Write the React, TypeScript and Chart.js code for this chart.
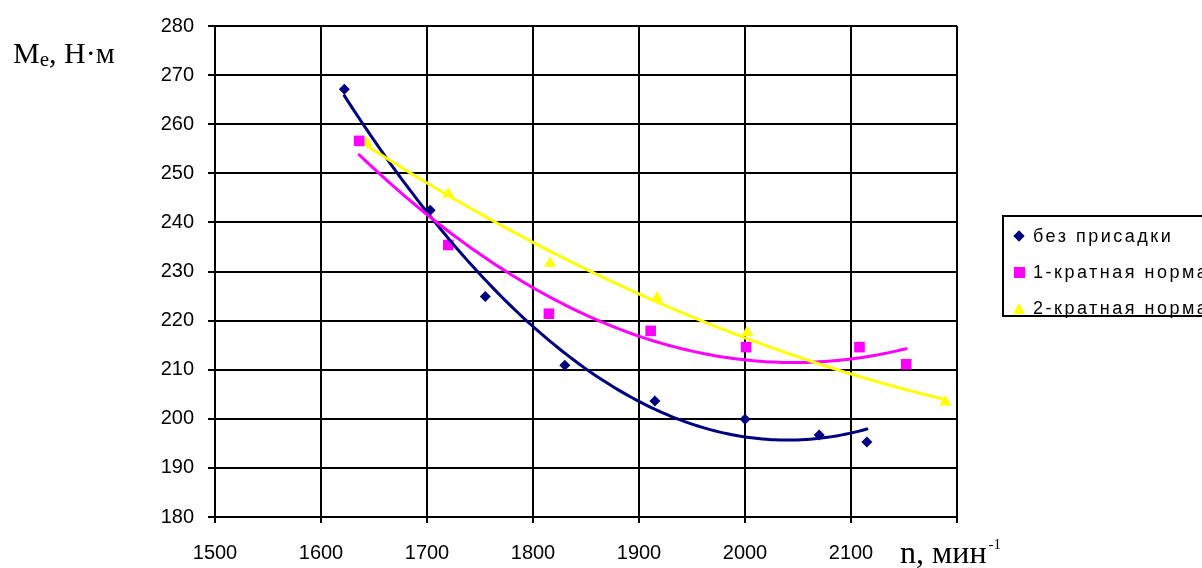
import React, { useEffect, useRef } from "react";
import { Chart, registerables } from "chart.js";

Chart.register(...registerables);

// Engine speed, min^-1, and effective torque, N·m, for each fuel variant
const rpmBase = [1622, 1703, 1755, 1830, 1915, 2000, 2070, 2115];
const torqueBase = [267.1, 242.5, 224.9, 210.9, 203.6, 199.9, 196.7, 195.3];

const rpmSingle = [1636, 1720, 1815, 1911, 2001, 2108, 2152];
const torqueSingle = [256.6, 235.4, 221.4, 217.9, 214.6, 214.6, 211.1];

const rpmDouble = [1643, 1720, 1816, 1917, 2002, 2189];
const torqueDouble = [256.2, 245.8, 231.7, 224.6, 217.6, 203.4];

const seriesLabels = ["без присадки", "1-кратная норма", "2-кратная норма"];
const seriesColors = ["#000080", "#FF00FF", "#FFFF00"];

const xTicks = [1500, 1600, 1700, 1800, 1900, 2000, 2100];

// Least-squares fit of a second-order polynomial (centred x for stability)
function quadFit(xs: number[], ys: number[]) {
  const c = 1900;
  const k = 100;
  const s = [0, 0, 0, 0, 0];
  const t = [0, 0, 0];
  xs.forEach((x, i) => {
    const u = (x - c) / k;
    let p = 1;
    for (let j = 0; j < 5; j++) {
      s[j] += p;
      if (j < 3) t[j] += p * ys[i];
      p *= u;
    }
  });
  const m = [
    [s[0], s[1], s[2], t[0]],
    [s[1], s[2], s[3], t[1]],
    [s[2], s[3], s[4], t[2]],
  ];
  for (let i = 0; i < 3; i++) {
    let piv = i;
    for (let r = i + 1; r < 3; r++) if (Math.abs(m[r][i]) > Math.abs(m[piv][i])) piv = r;
    [m[i], m[piv]] = [m[piv], m[i]];
    for (let r = 0; r < 3; r++) {
      if (r === i) continue;
      const f = m[r][i] / m[i][i];
      for (let q = i; q < 4; q++) m[r][q] -= f * m[i][q];
    }
  }
  const coef = [m[0][3] / m[0][0], m[1][3] / m[1][1], m[2][3] / m[2][2]];
  return (x: number) => {
    const u = (x - c) / k;
    return coef[0] + coef[1] * u + coef[2] * u * u;
  };
}

// Polynomial trend curves drawn through the chart's own scales
const trendPlugin = {
  id: "trendCurves",
  afterDatasetsDraw(chart: any) {
    const { ctx, scales } = chart;
    const xs = scales.x;
    const ys = scales.y;
    chart.data.datasets.forEach((ds: any) => {
      const px = ds.data.map((p: any) => p.x);
      const py = ds.data.map((p: any) => p.y);
      const f = quadFit(px, py);
      const lo = Math.min(...px);
      const hi = Math.max(...px);
      const steps = 120;
      ctx.save();
      ctx.beginPath();
      for (let i = 0; i <= steps; i++) {
        const x = lo + ((hi - lo) * i) / steps;
        const X = xs.getPixelForValue(x);
        const Y = ys.getPixelForValue(f(x));
        if (i === 0) ctx.moveTo(X, Y);
        else ctx.lineTo(X, Y);
      }
      ctx.strokeStyle = ds.borderColor;
      ctx.lineWidth = 3;
      ctx.lineJoin = "round";
      ctx.lineCap = "round";
      ctx.stroke();
      ctx.restore();
    });
  },
};

const tickFont = { family: "'Liberation Sans', Arial, sans-serif", size: 20 };

export default function App() {
  const ref = useRef<HTMLCanvasElement>(null);

  useEffect(() => {
    if (!ref.current) return;
    const mk = (xs: number[], ys: number[]) => xs.map((x, i) => ({ x, y: ys[i] }));
    const chart = new Chart(ref.current, {
      type: "scatter",
      data: {
        datasets: [
          {
            label: seriesLabels[0],
            data: mk(rpmBase, torqueBase),
            pointStyle: "rectRot",
            pointRadius: 5.5,
            backgroundColor: seriesColors[0],
            borderColor: seriesColors[0],
            borderWidth: 0,
          },
          {
            label: seriesLabels[1],
            data: mk(rpmSingle, torqueSingle),
            pointStyle: "rect",
            pointRadius: 7.5,
            backgroundColor: seriesColors[1],
            borderColor: seriesColors[1],
            borderWidth: 0,
          },
          {
            label: seriesLabels[2],
            data: mk(rpmDouble, torqueDouble),
            pointStyle: "triangle",
            pointRadius: 7,
            backgroundColor: seriesColors[2],
            borderColor: seriesColors[2],
            borderWidth: 0,
          },
        ],
      },
      options: {
        animation: false,
        responsive: false,
        devicePixelRatio: 1,
        layout: { padding: { left: 0, top: 25, right: 245, bottom: 0 } },
        plugins: {
          legend: { display: false },
          tooltip: { enabled: false },
        },
        scales: {
          x: {
            type: "linear",
            min: 1500,
            max: 2200,
            afterFit: (s: any) => {
              s.height = 51;
            },
            afterBuildTicks: (s: any) => {
              s.ticks = [...xTicks, 2200].map((v) => ({ value: v }));
            },
            ticks: {
              font: tickFont,
              color: "#000",
              padding: 18,
              maxRotation: 0,
              callback: (v: any) => (xTicks.includes(v) ? String(v) : ""),
            },
            grid: { color: "#000", lineWidth: 2, tickLength: 6, tickColor: "#000" },
            border: { color: "#000", width: 2 },
          },
          y: {
            min: 180,
            max: 280,
            afterFit: (s: any) => {
              s.width = 215;
            },
            ticks: { stepSize: 10, font: tickFont, color: "#000", padding: 14 },
            grid: { color: "#000", lineWidth: 2, tickLength: 7, tickColor: "#000" },
            border: { color: "#000", width: 2 },
          },
        },
      },
      plugins: [trendPlugin],
    });
    return () => chart.destroy();
  }, []);

  const serif = "'Liberation Serif', 'Times New Roman', serif";
  const sans = "'Liberation Sans', Arial, sans-serif";

  const marker = (i: number) => {
    if (i === 0)
      return (
        <span
          style={{
            display: "inline-block",
            width: 8,
            height: 8,
            background: seriesColors[0],
            transform: "rotate(45deg)",
          }}
        />
      );
    if (i === 1)
      return <span style={{ display: "inline-block", width: 11, height: 11, background: seriesColors[1] }} />;
    return (
      <span
        style={{
          display: "inline-block",
          width: 0,
          height: 0,
          borderLeft: "6px solid transparent",
          borderRight: "6px solid transparent",
          borderBottom: `11px solid ${seriesColors[2]}`,
        }}
      />
    );
  };

  return (
    <div
      style={{
        position: "fixed",
        left: 0,
        top: 0,
        width: 1202,
        height: 568,
        overflow: "hidden",
        background: "#fff",
      }}
    >
      <canvas ref={ref} width={1202} height={568} style={{ position: "absolute", left: 0, top: 0 }} />
      <div
        style={{
          position: "absolute",
          left: 13,
          top: 38,
          fontFamily: serif,
          fontSize: 30,
          lineHeight: "30px",
          whiteSpace: "nowrap",
          color: "#000",
        }}
      >
        M<span style={{ fontSize: 21, position: "relative", top: 3 }}>e</span>, Н·м
      </div>
      <div
        style={{
          position: "absolute",
          left: 900,
          top: 536,
          fontFamily: serif,
          fontSize: 32,
          lineHeight: "32px",
          whiteSpace: "nowrap",
          color: "#000",
        }}
      >
        n, мин<span style={{ fontSize: 15, position: "relative", top: -14, marginLeft: 2 }}>-1</span>
      </div>
      <div
        style={{
          position: "absolute",
          left: 1002,
          top: 215,
          width: 230,
          height: 102,
          border: "2px solid #000",
          boxSizing: "border-box",
          fontFamily: sans,
          fontSize: 18,
          letterSpacing: "2.5px",
          color: "#000",
        }}
      >
        {seriesLabels.map((lab, i) => (
          <div
            key={lab}
            style={{
              position: "absolute",
              left: 6,
              top: 7 + i * 36,
              height: 24,
              display: "flex",
              alignItems: "center",
              whiteSpace: "nowrap",
            }}
          >
            <span style={{ width: 18, display: "inline-flex", justifyContent: "center" }}>{marker(i)}</span>
            <span style={{ marginLeft: 5 }}>{lab}</span>
          </div>
        ))}
      </div>
    </div>
  );
}
